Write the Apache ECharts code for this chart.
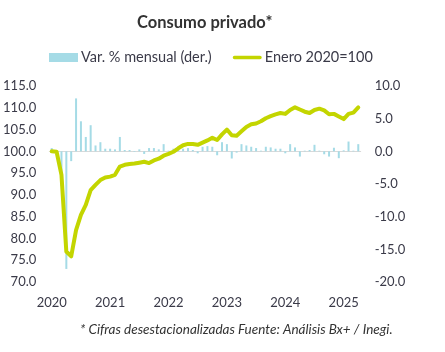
<!DOCTYPE html>
<html>
<head>
<meta charset="utf-8">
<script src="https://cdn.jsdelivr.net/npm/echarts@6/dist/echarts.min.js"></script>
<style>
html,body{margin:0;padding:0;background:#fff;}
#chart{width:445px;height:352px;}
</style>
</head>
<body>
<div id="chart"></div>
<script>
var months = [
'2020-01','2020-02','2020-03','2020-04','2020-05','2020-06','2020-07','2020-08','2020-09','2020-10','2020-11','2020-12',
'2021-01','2021-02','2021-03','2021-04','2021-05','2021-06','2021-07','2021-08','2021-09','2021-10','2021-11','2021-12',
'2022-01','2022-02','2022-03','2022-04','2022-05','2022-06','2022-07','2022-08','2022-09','2022-10','2022-11','2022-12',
'2023-01','2023-02','2023-03','2023-04','2023-05','2023-06','2023-07','2023-08','2023-09','2023-10','2023-11','2023-12',
'2024-01','2024-02','2024-03','2024-04','2024-05','2024-06','2024-07','2024-08','2024-09','2024-10','2024-11','2024-12',
'2025-01','2025-02','2025-03','2025-04'
];
var indexValues = [
100.0, 99.9, 94.6, 77.0, 75.9, 81.9, 85.4, 87.7, 91.1, 92.3, 93.4, 94.0,
94.2, 94.6, 96.5, 96.9, 97.1, 97.2, 97.4, 97.6, 97.3, 97.9, 98.3, 99.0,
99.4, 99.9, 100.7, 101.4, 101.7, 101.7, 101.5, 102.0, 102.5, 103.1, 102.6, 103.9,
105.0, 103.7, 103.6, 104.6, 105.6, 106.2, 106.4, 106.9, 107.6, 108.1, 108.5, 108.8,
108.6, 109.5, 110.1, 109.6, 109.1, 108.8, 109.5, 109.8, 109.4, 108.5, 108.6, 108.0,
107.4, 108.6, 108.9, 110.1
];
var monthlyChange = [
0.5, -0.3, -5.3, -18.0, -1.5, 8.1, 4.6, 2.2, 4.0, 0.9, 1.4, 0.4,
0.4, 0.3, 2.2, 0.2, 0.2, -0.1, 0.3, -0.4, 0.5, 0.5, 0.3, 1.1,
0.1, 0.4, 0.5, 0.4, 0.5, 0.2, -0.3, 0.7, 0.8, 0.7, -0.6, 1.4,
1.1, -1.1, -0.2, 1.1, 0.9, 0.7, 0.5, 0.1, 0.7, 0.6, 0.4, 0.4,
-0.3, 1.1, 0.6, -0.8, 0.1, 0.2, 1.0, 0.1, -0.45, -0.8, 0.55, -1.05,
0.15, 1.5, 0.1, 1.1
];
var titleText = 'Consumo privado*';
var barName = 'Var. % mensual (der.)';
var lineName = 'Enero 2020=100';
var footnote = '* Cifras desestacionalizadas Fuente: Análisis Bx+ / Inegi.';

var txt = '#3a3a48';
var FONT = 'Lato, "Open Sans", sans-serif';
var chart = echarts.init(document.getElementById('chart'), null, {renderer:'canvas'});
chart.setOption({
  animation: false,
  backgroundColor: '#fff',
  textStyle: {fontFamily: FONT},
  title: {
    text: titleText, left: 132, top: 9,
    textStyle: {fontSize: 16.5, fontWeight: 'bold', color: '#333', fontFamily: FONT}
  },
  legend: {
    left: 44, top: 45, itemGap: 21, itemWidth: 29, itemHeight: 9,
    textStyle: {fontSize: 14.5, color: txt, fontFamily: FONT, padding: [0,0,0,-2]},
    data: [
      {name: barName, icon: 'rect'},
      {name: lineName, icon: 'path://M2,0 L31,0 A2,2 0 0 1 31,4 L2,4 A2,2 0 0 1 2,0 Z'}
    ]
  },
  grid: {left: 49.3, right: 84.3, top: 86, bottom: 70, containLabel: false},
  xAxis: {
    type: 'category', data: months, boundaryGap: true,
    axisLine: {lineStyle: {color: '#d9d9d9', width: 1}},
    axisTick: {show: false},
    axisLabel: {
      interval: 11, margin: 14, fontSize: 13, color: txt, fontFamily: FONT,
      formatter: function (v) { return v.slice(0, 4); }
    }
  },
  yAxis: [
    {
      type: 'value', min: 70, max: 115, interval: 5,
      axisLine: {show: false}, axisTick: {show: false}, splitLine: {show: false},
      axisLabel: {fontSize: 13, color: txt, margin: 13, fontFamily: FONT,
        formatter: function (v) { return v.toFixed(1); }}
    },
    {
      type: 'value', min: -20, max: 10, interval: 5,
      axisLine: {show: false}, axisTick: {show: false}, splitLine: {show: false},
      axisLabel: {fontSize: 13, color: txt, margin: 14, fontFamily: FONT,
        formatter: function (v) { return v.toFixed(1); }}
    }
  ],
  series: [
    {
      name: barName, type: 'bar', yAxisIndex: 1, data: monthlyChange,
      barWidth: 2, itemStyle: {color: '#a5dbe6'}
    },
    {
      name: lineName, type: 'line', yAxisIndex: 0, data: indexValues,
      showSymbol: false, symbol: 'none',
      lineStyle: {color: '#c3d500', width: 4, cap: 'round', join: 'round'},
      itemStyle: {color: '#c3d500'}, z: 3
    }
  ],
  graphic: [{
    type: 'text', left: 80, top: 323,
    style: {text: footnote, font: 'italic 13.5px ' + FONT, fill: '#333'}
  }]
});
</script>
</body>
</html>
